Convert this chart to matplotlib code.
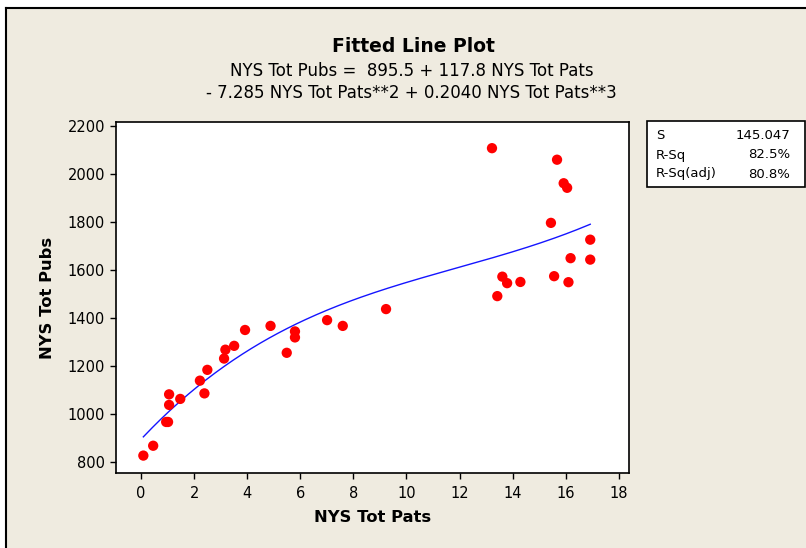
import matplotlib
matplotlib.use("Agg")
import matplotlib.pyplot as plt
import numpy as np
from matplotlib.lines import Line2D
from matplotlib.patches import Rectangle

# Data
pats = [0.09, 0.46, 0.95, 1.02, 1.06, 1.06, 1.48, 2.22, 2.39, 2.50, 3.13, 3.18,
        3.51, 3.92, 4.88, 5.49, 5.80, 5.80, 7.01, 7.60, 9.23, 13.22, 13.42,
        13.61, 13.79, 14.29, 15.44, 15.56, 15.67, 15.92, 16.05, 16.10, 16.18,
        16.92, 16.92]
pubs = [828, 869, 968, 968, 1039, 1083, 1064, 1140, 1087, 1185, 1232, 1269,
        1285, 1351, 1368, 1256, 1345, 1320, 1392, 1368, 1438, 2108, 1492,
        1573, 1546, 1551, 1797, 1575, 2060, 1962, 1943, 1550, 1650,
        1727, 1644]
coef = [895.5, 117.8, -7.285, 0.2040]
xticks = [0, 2, 4, 6, 8, 10, 12, 14, 16, 18]
yticks = [800, 1000, 1200, 1400, 1600, 1800, 2000, 2200]
stats_labels = ["S", "R-Sq", "R-Sq(adj)"]
stats_values = ["145.047", "82.5%", "80.8%"]

W, H = 806, 548
bg = "#EFEBE0"
fig = plt.figure(figsize=(W / 100, H / 100), dpi=100, facecolor=bg)
plt.rcParams['font.family'] = ['DejaVu Sans']

def fx(px):
    return px / W

def fy(py):
    return 1 - py / H

ax = fig.add_axes([fx(116), fy(473), fx(629) - fx(116), fy(122) - fy(473)])
ax.set_facecolor("white")

ax.scatter(pats, pubs, s=55, color="#FF0000", edgecolors="none", zorder=3)
xs = np.linspace(min(pats), max(pats), 200)
ys = coef[0] + coef[1] * xs + coef[2] * xs ** 2 + coef[3] * xs ** 3
ax.plot(xs, ys, color="#1515FF", lw=1.0, zorder=2)

ax.set_xlim(-0.94, 18.38)
ax.set_ylim(755.5, 2217)
ax.set_xticks(xticks)
ax.set_yticks(yticks)
ax.tick_params(direction="out", length=4, width=1, labelsize=10.5, colors="black")
ax.tick_params(axis="x", pad=5)
ax.tick_params(axis="y", pad=4)
for s in ax.spines.values():
    s.set_linewidth(1.2)
    s.set_color("black")

ax.set_xlabel("NYS Tot Pats", fontsize=11.8, fontweight="bold", labelpad=7)
ax.set_ylabel("NYS Tot Pubs", fontsize=11.8, fontweight="bold", labelpad=9)

fig.text(fx(413), fy(47), "Fitted Line Plot", ha="center", va="center",
         fontsize=13.5, fontweight="bold")
fig.text(fx(412), fy(71), "NYS Tot Pubs =  895.5 + 117.8 NYS Tot Pats",
         ha="center", va="center", fontsize=12)
fig.text(fx(411), fy(93), "- 7.285 NYS Tot Pats**2 + 0.2040 NYS Tot Pats**3",
         ha="center", va="center", fontsize=12)

# stats box
x0, x1, y0, y1 = 647, 805, 121, 187
fig.add_artist(Rectangle((fx(x0), fy(y1)), fx(x1) - fx(x0), fy(y0) - fy(y1),
                         transform=fig.transFigure, facecolor="white",
                         edgecolor="black", lw=1.2))
rows_y = [135, 155, 174]
for lab, val, ry in zip(stats_labels, stats_values, rows_y):
    fig.text(fx(656), fy(ry), lab, ha="left", va="center", fontsize=9.5)
    fig.text(fx(790), fy(ry), val, ha="right", va="center", fontsize=9.5)

# frame border (left and top)
fig.add_artist(Line2D([fx(5.5), fx(5.5)], [0, fy(8)], transform=fig.transFigure,
                      color="black", lw=1.5))
fig.add_artist(Line2D([fx(5.5), 1], [fy(8), fy(8)], transform=fig.transFigure,
                      color="black", lw=1.5))
# outer white margin
fig.add_artist(Rectangle((0, fy(8)), 1, 1 - fy(8), transform=fig.transFigure,
                         facecolor="white", edgecolor="none", zorder=-1))
fig.add_artist(Rectangle((0, 0), fx(5), 1, transform=fig.transFigure,
                         facecolor="white", edgecolor="none", zorder=-1))

fig.savefig("out.png", dpi=100, facecolor=bg)
